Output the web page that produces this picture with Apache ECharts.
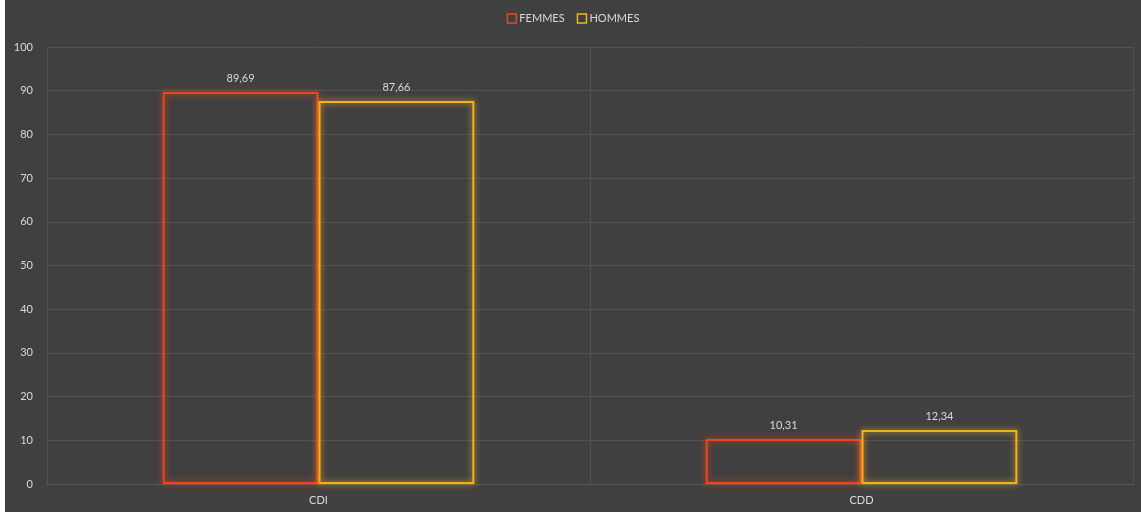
<!DOCTYPE html>
<html><head><meta charset="utf-8">
<script src="https://cdn.jsdelivr.net/npm/echarts@6/dist/echarts.min.js"></script>
<style>html,body{margin:0;padding:0;background:#fff;}#c{position:absolute;left:5px;top:0;width:1136px;height:512px;background:#404040;}</style>
</head><body><div id="c"></div>
<script>
const categories = ['CDI', 'CDD'];
const femmes = [89.69, 10.31];
const hommes = [87.66, 12.34];
const seriesNames = ['FEMMES', 'HOMMES'];
const colors = ['#E8471F', '#F2B21F'];
const fontFam = 'Lato, "Open Sans", sans-serif';
const chart = echarts.init(document.getElementById('c'));
function mk(name, data, col) {
  return {
    name: name, type: 'bar', data: data, barWidth: '28.7%', barGap: '0%',
    itemStyle: { color: 'rgba(0,0,0,0)', borderColor: col, borderWidth: 2, shadowColor: col, shadowBlur: 6 },
    label: { show: true, position: 'top', distance: 8, color: '#d9d9d9', fontSize: 11, fontFamily: fontFam,
      formatter: p => String(p.value).replace('.', ',') }
  };
}
chart.setOption({
  backgroundColor: '#404040',
  animation: false,
  legend: { top: 8, left: 'center', itemWidth: 9, itemHeight: 9, itemGap: 12,
    icon: 'rect', textStyle: { color: '#d9d9d9', fontSize: 11, fontFamily: fontFam, padding: [0, 0, 0, -2] },
    data: seriesNames.map((n, i) => ({ name: n, itemStyle: { color: 'rgba(0,0,0,0)', borderColor: colors[i], borderWidth: 1.5 } })) },
  grid: { left: 42, right: 8, top: 47, bottom: 28 },
  xAxis: { type: 'category', data: categories,
    axisLine: { lineStyle: { color: '#595959' } }, axisTick: { show: false },
    splitLine: { show: true, lineStyle: { color: '#525252' } },
    axisLabel: { color: '#d9d9d9', fontSize: 11, fontFamily: fontFam, margin: 11 } },
  yAxis: { type: 'value', min: 0, max: 100, interval: 10,
    axisLine: { show: false }, axisTick: { show: false },
    splitLine: { lineStyle: { color: '#525252' } },
    axisLabel: { color: '#d9d9d9', fontSize: 11, fontFamily: fontFam, margin: 14 } },
  series: [mk(seriesNames[0], femmes, colors[0]), mk(seriesNames[1], hommes, colors[1])]
});
</script></body></html>
